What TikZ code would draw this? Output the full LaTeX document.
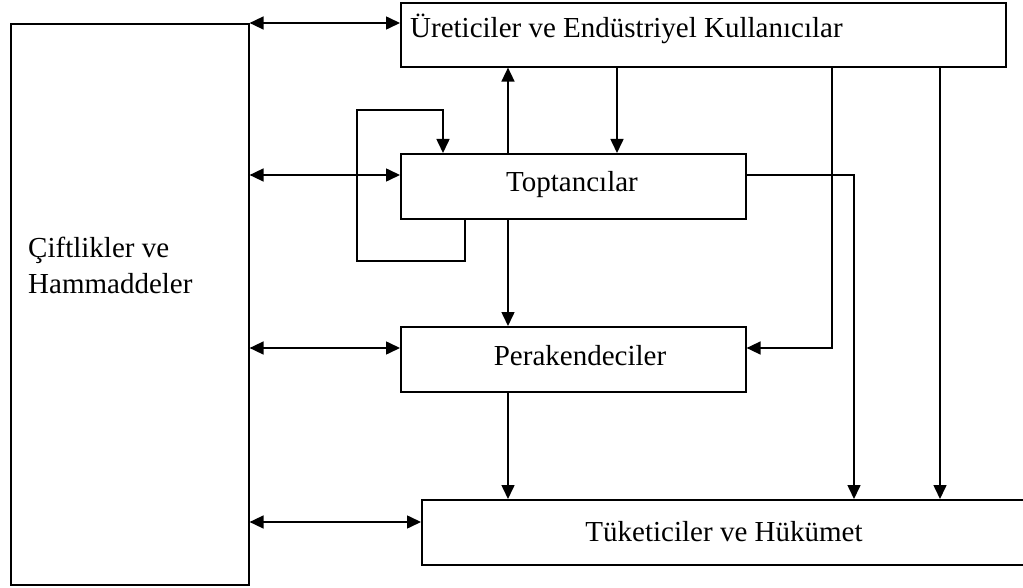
\documentclass[tikz,border=0pt]{standalone}
\usepackage{fontspec}
\setmainfont{Liberation Serif}
\usetikzlibrary{arrows.meta}
\begin{document}
\begin{tikzpicture}[x=1pt,y=-1pt,
  box/.style={draw, line width=1.6pt, rectangle, inner sep=0pt, anchor=north west},
  lbl/.style={inner sep=0pt, font=\fontsize{29}{34}\selectfont},
  tip/.style={Triangle[length=14pt,width=13pt]},
  flow/.style={line width=1.6pt, -{Triangle[length=14pt,width=13pt]}},
  both/.style={line width=1.6pt, {Triangle[length=14pt,width=13pt]}-{Triangle[length=14pt,width=13pt]}}]
\clip (0,0) rectangle (1023,588);

% boxes
\node[box, minimum width=238pt, minimum height=561pt] (farm) at (10,23) {};
\node[box, minimum width=605pt, minimum height=64pt] (ure) at (400,2) {};
\node[box, minimum width=345pt, minimum height=65pt] (top) at (400,153) {};
\node[box, minimum width=345pt, minimum height=65pt] (per) at (400,326) {};
\node[box, minimum width=609pt, minimum height=65pt] (tuk) at (421,499) {};

% labels
\node[lbl, anchor=base west] (farmA) at (28,258) {Çiftlikler ve};
\node[lbl, anchor=base west] (farmB) at (28,293) {Hammaddeler};
\node[lbl, anchor=base west] (ureT) at (410,38) {Üreticiler ve Endüstriyel Kullanıcılar};
\node[lbl, anchor=base] (topT) at (572,192) {Toptancılar};
\node[lbl, anchor=base] (perT) at (580,365) {Perakendeciler};
\node[lbl, anchor=base] (tukT) at (724,541) {Tüketiciler ve Hükümet};

% helper rows and columns
\coordinate (r1) at (0,23);
\coordinate (r2) at (0,175);
\coordinate (r3) at (0,348);
\coordinate (r4) at (0,522);
\coordinate (xA) at (508,0);
\coordinate (xB) at (617,0);
\coordinate (xC) at (832,0);
\coordinate (xD) at (854,0);
\coordinate (xE) at (940,0);
\coordinate (xL) at (465,0);
\coordinate (lp1) at (357,261);
\coordinate (lp2) at (443,110);

% two-way links with the farms
\draw[both] (farm.east |- r1) -- (ure.west |- r1);
\draw[both] (farm.east |- r2) -- (top.west |- r2);
\draw[both] (farm.east |- r3) -- (per.west |- r3);
\draw[both] (farm.east |- r4) -- (tuk.west |- r4);

% flows between the stages
\draw[flow] (top.north -| xA) -- (ure.south -| xA);
\draw[flow] (ure.south -| xB) -- (top.north -| xB);
\draw[flow] (top.south -| xA) -- (per.north -| xA);
\draw[flow] (per.south -| xA) -- (tuk.north -| xA);
\draw[flow] (ure.south -| xE) -- (tuk.north -| xE);
\draw[flow] (ure.south -| xC) |- (per.east |- r3);
\draw[flow] (top.east |- r2) -| (tuk.north -| xD);

% wholesaler to wholesaler loop
\draw[flow] (top.south -| xL) |- (lp1) |- (lp2) -- (top.north -| lp2);
\end{tikzpicture}
\end{document}
